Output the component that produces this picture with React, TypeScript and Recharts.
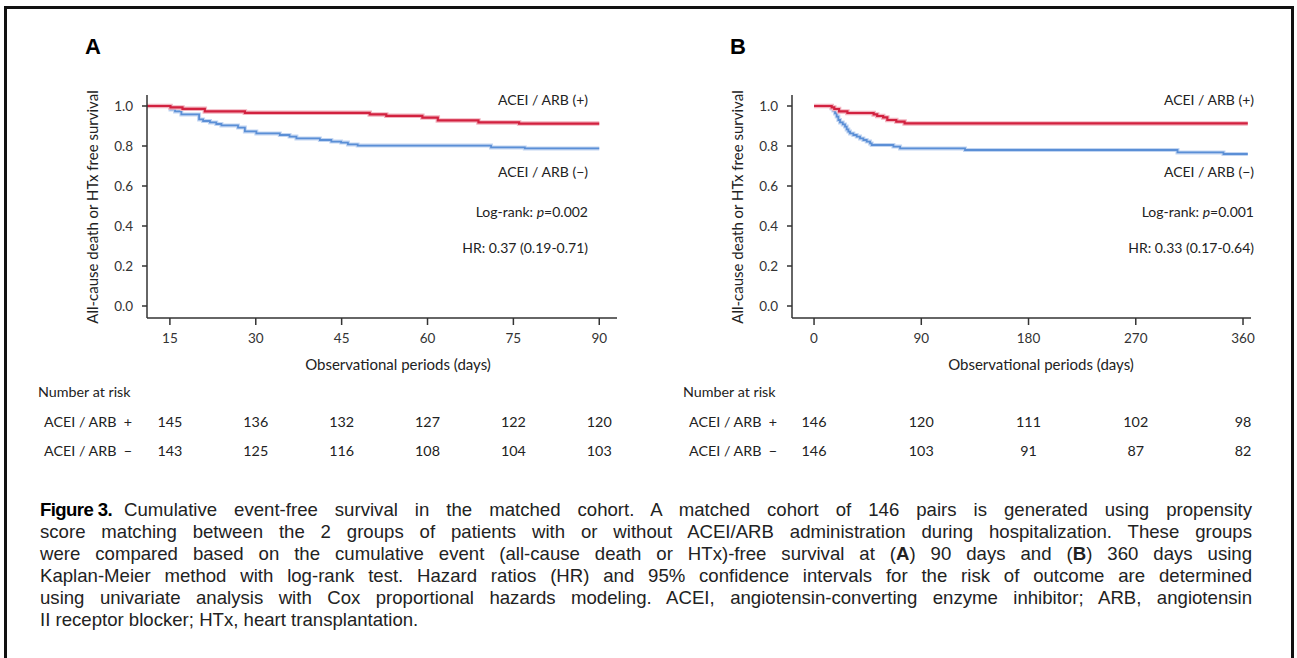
import { Line, LineChart, XAxis, YAxis } from "recharts";

// survival curves (days, survival)
const aDaysPos = [11, 15.1, 17.2, 21.1, 28.1, 49.9, 52.8, 59.1, 61.8, 68.9, 76, 90];
const aSurvPos = [1, 0.993, 0.986, 0.973, 0.966, 0.958, 0.951, 0.942, 0.928, 0.918, 0.912, 0.912];
const aDaysNeg = [11, 15.1, 15.9, 17.0, 20.1, 20.8, 22.0, 23.1, 24.0, 26.9, 28.1, 30.1, 34.2, 35.9, 37.1, 41.2, 43.2, 44.9, 46.1, 47.8, 71.1, 77, 90];
const aSurvNeg = [1, 0.983, 0.973, 0.958, 0.933, 0.925, 0.918, 0.91, 0.903, 0.892, 0.873, 0.863, 0.855, 0.847, 0.838, 0.83, 0.822, 0.817, 0.808, 0.802, 0.793, 0.788, 0.788];

const bDaysPos = [0, 14.8, 17, 21, 28, 50, 53, 58, 61.5, 69, 76, 364];
const bSurvPos = [1, 0.993, 0.985, 0.973, 0.965, 0.958, 0.95, 0.943, 0.93, 0.922, 0.913, 0.913];
const bDaysNeg = [0, 14.8, 16.2, 17.6, 19.0, 20.4, 21.8, 24.1, 26.0, 27.4, 28.8, 30.2, 33.0, 35.8, 38.6, 41.4, 44.2, 47.0, 48.4, 66.6, 72.2, 126.7, 305, 343.6, 364];
const bSurvNeg = [1, 0.988, 0.977, 0.963, 0.947, 0.93, 0.918, 0.908, 0.897, 0.883, 0.872, 0.863, 0.855, 0.847, 0.838, 0.83, 0.822, 0.813, 0.805, 0.797, 0.788, 0.78, 0.768, 0.76, 0.76];

const aTicks = [15, 30, 45, 60, 75, 90];
const bTicks = [0, 90, 180, 270, 360];
const yTicks = [0, 0.2, 0.4, 0.6, 0.8, 1.0];

const aRiskPos = [145, 136, 132, 127, 122, 120];
const aRiskNeg = [143, 125, 116, 108, 104, 103];
const bRiskPos = [146, 120, 111, 102, 98];
const bRiskNeg = [146, 103, 91, 87, 82];

const captionLines = [
  "Cumulative event-free survival in the matched cohort. A matched cohort of 146 pairs is generated using propensity",
  "score matching between the 2 groups of patients with or without ACEI/ARB administration during hospitalization. These groups",
  "were compared based on the cumulative event (all-cause death or HTx)-free survival at (A) 90 days and (B) 360 days using",
  "Kaplan-Meier method with log-rank test. Hazard ratios (HR) and 95% confidence intervals for the risk of outcome are determined",
  "using univariate analysis with Cox proportional hazards modeling. ACEI, angiotensin-converting enzyme inhibitor; ARB, angiotensin",
  "II receptor blocker; HTx, heart transplantation."
];

const FONT = "Lato, 'Open Sans', sans-serif";
const CAPTION_FONT = "'Liberation Sans', Arial, sans-serif";
const RED = "#d2213f";
const BLUE = "#5b8fd6";
const AXIS = "#333";

const toPoints = (days: number[], surv: number[]) => days.map((t, i) => ({ t, s: surv[i] }));

interface PanelProps {
  letter: string;
  x0: number;
  plotW: number;
  domain: [number, number];
  ticks: number[];
  pos: { t: number; s: number }[];
  neg: { t: number; s: number }[];
  riskPos: number[];
  riskNeg: number[];
  pValue: string;
  hr: string;
  noteRight: number;
  titleCenter: number;
}

function KmPanel(props: PanelProps) {
  const { letter, x0, plotW, domain, ticks, pos, neg, riskPos, riskNeg, pValue, hr, noteRight, titleCenter } = props;
  const yAxisW = 47;
  const top = 90;
  const plotLeft = x0 + yAxisW;
  const px = (t: number) => plotLeft + ((t - domain[0]) / (domain[1] - domain[0])) * plotW;
  const note = (y: number, content: React.ReactNode) => (
    <div
      style={{
        position: "absolute",
        right: 1297 - noteRight,
        top: y - 9,
        fontSize: 14,
        lineHeight: "18px",
        whiteSpace: "nowrap"
      }}
    >
      {content}
    </div>
  );
  const riskRow = (y: number, vals: number[]) =>
    vals.map((v, i) => (
      <div
        key={i}
        style={{ position: "absolute", left: px(ticks[i]) - 30, width: 60, top: y - 9, textAlign: "center", lineHeight: "18px" }}
      >
        {v}
      </div>
    ));

  return (
    <div style={{ fontFamily: FONT, fontSize: 14.3, color: "#222" }}>
      <div
        style={{
          position: "absolute",
          left: plotLeft - 62,
          top: 34,
          fontFamily: "'Liberation Sans', Arial, sans-serif",
          fontWeight: 700,
          fontSize: 22,
          color: "#000"
        }}
      >
        {letter}
      </div>
      <div style={{ position: "absolute", left: x0, top }}>
        <LineChart width={yAxisW + plotW + 5} height={258} margin={{ top: 5, right: 5, bottom: 0, left: 0 }}>
          <XAxis
            dataKey="t"
            type="number"
            domain={domain}
            ticks={ticks}
            interval={0}
            allowDataOverflow
            height={30}
            tickSize={7}
            tickMargin={8}
            stroke={AXIS}
            strokeWidth={1.5}
            tick={{ fill: AXIS, fontSize: 13.5, fontFamily: FONT }}
          />
          <YAxis
            type="number"
            domain={[-0.06, 1.055]}
            ticks={yTicks}
            interval={0}
            allowDataOverflow
            width={yAxisW}
            tickSize={5}
            tickMargin={9}
            stroke={AXIS}
            strokeWidth={1.5}
            tickFormatter={(v: number) => v.toFixed(1)}
            tick={{ fill: AXIS, fontSize: 13.5, fontFamily: FONT }}
          />
          <Line data={neg} dataKey="s" type="stepAfter" stroke="#c3d6f2" strokeWidth={4} dot={false} isAnimationActive={false} />
          <Line data={neg} dataKey="s" type="stepAfter" stroke={BLUE} strokeWidth={1.8} dot={false} isAnimationActive={false} />
          <Line data={pos} dataKey="s" type="stepAfter" stroke="#f2b3bf" strokeWidth={4.5} dot={false} isAnimationActive={false} />
          <Line data={pos} dataKey="s" type="stepAfter" stroke={RED} strokeWidth={2.2} dot={false} isAnimationActive={false} />
        </LineChart>
      </div>
      <div
        style={{
          position: "absolute",
          left: plotLeft - 55 - 130,
          top: 207 - 9,
          width: 260,
          height: 18,
          lineHeight: "18px",
          textAlign: "center",
          transform: "rotate(-90deg)",
          whiteSpace: "nowrap",
          fontSize: 15
        }}
      >
        All-cause death or HTx free survival
      </div>
      {note(100, "ACEI / ARB (+)")}
      {note(172, "ACEI / ARB (\u2212)")}
      {note(212, <span>Log-rank: <i>p</i>={pValue}</span>)}
      {note(248, `HR: ${hr}`)}
      <div
        style={{
          position: "absolute",
          left: titleCenter - 150,
          width: 300,
          top: 355,
          textAlign: "center",
          lineHeight: "18px",
          fontSize: 15
        }}
      >
        Observational periods (days)
      </div>
      <div style={{ position: "absolute", left: plotLeft - 109, top: 383, lineHeight: "18px" }}>Number at risk</div>
      <div style={{ position: "absolute", left: plotLeft - 103, top: 413, lineHeight: "18px" }}>ACEI / ARB&nbsp;&nbsp;+</div>
      <div style={{ position: "absolute", left: plotLeft - 103, top: 442, lineHeight: "18px" }}>ACEI / ARB&nbsp;&nbsp;&minus;</div>
      {riskRow(422, riskPos)}
      {riskRow(451, riskNeg)}
    </div>
  );
}

function Caption() {
  const renderLine = (text: string, i: number) => {
    const last = i === captionLines.length - 1;
    let content: React.ReactNode = text;
    if (i === 2) {
      const parts = text.split(/\((A|B)\)/);
      content = parts.map((p, k) =>
        k % 2 === 1 ? (
          <span key={k}>
            (<b>{p}</b>)
          </span>
        ) : (
          <span key={k}>{p}</span>
        )
      );
    }
    return (
      <div
        key={i}
        style={{
          textAlign: last ? "left" : "justify",
          textAlignLast: last ? "left" : "justify",
          whiteSpace: "nowrap"
        }}
      >
        {i === 0 && (
          <b style={{ display: "inline-block", marginRight: 12, letterSpacing: -0.6, color: "#000" }}>Figure 3.</b>
        )}
        {content}
      </div>
    );
  };
  return (
    <div
      style={{
        position: "absolute",
        left: 40,
        top: 499,
        width: 1212,
        fontFamily: CAPTION_FONT,
        fontSize: 18.6,
        lineHeight: "22px",
        color: "#222"
      }}
    >
      {captionLines.map(renderLine)}
    </div>
  );
}

export default function App() {
  return (
    <div
      style={{
        position: "absolute",
        left: 0,
        top: 0,
        width: 1297,
        height: 658,
        overflow: "hidden",
        background: "#fff"
      }}
    >
      <div
        style={{
          position: "absolute",
          left: 4,
          top: 6,
          width: 1284,
          height: 720,
          border: "3px solid #111"
        }}
      />
      <KmPanel
        letter="A"
        x0={100}
        plotW={470}
        domain={[11, 93.1]}
        ticks={aTicks}
        pos={toPoints(aDaysPos, aSurvPos)}
        neg={toPoints(aDaysNeg, aSurvNeg)}
        riskPos={aRiskPos}
        riskNeg={aRiskNeg}
        pValue="0.002"
        hr="0.37 (0.19-0.71)"
        noteRight={588}
        titleCenter={398}
      />
      <KmPanel
        letter="B"
        x0={745}
        plotW={459}
        domain={[-18.5, 366.7]}
        ticks={bTicks}
        pos={toPoints(bDaysPos, bSurvPos)}
        neg={toPoints(bDaysNeg, bSurvNeg)}
        riskPos={bRiskPos}
        riskNeg={bRiskNeg}
        pValue="0.001"
        hr="0.33 (0.17-0.64)"
        noteRight={1254}
        titleCenter={1041}
      />
      <Caption />
    </div>
  );
}
